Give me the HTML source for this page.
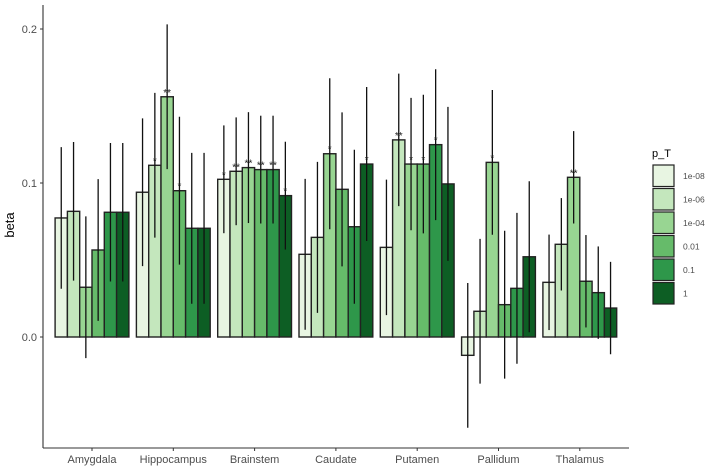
<!DOCTYPE html>
<html><head><meta charset="utf-8"><style>
body{margin:0;background:#fff;}
svg{display:block;font-family:"Liberation Sans",sans-serif;}
</style></head><body>
<svg id="chart" width="708" height="469"></svg>
<script>
const regions = ["Amygdala","Hippocampus","Brainstem","Caudate","Putamen","Pallidum","Thalamus"];
const thresholds = ["1e-08","1e-06","1e-04","0.01","0.1","1"];
const betaAmygdala = [0.0773,0.0816,0.0323,0.0565,0.081,0.081];
const betaHippocampus = [0.094,0.1115,0.156,0.095,0.0706,0.0706];
const betaBrainstem = [0.1024,0.1076,0.110,0.1087,0.1087,0.0918];
const betaCaudate = [0.0537,0.0647,0.119,0.0959,0.0716,0.1123];
const betaPutamen = [0.0582,0.128,0.1123,0.1123,0.1249,0.0994];
const betaPallidum = [-0.0119,0.0167,0.1134,0.021,0.0316,0.0521];
const betaThalamus = [0.0355,0.0602,0.1037,0.0362,0.0288,0.0188];
const errAmygdala = [0.046,0.045,0.046,0.046,0.045,0.045];
const errHippocampus = [0.048,0.047,0.047,0.048,0.049,0.049];
const errBrainstem = [0.035,0.035,0.036,0.035,0.035,0.035];
const errCaudate = [0.049,0.049,0.049,0.050,0.050,0.050];
const errPutamen = [0.044,0.043,0.043,0.045,0.049,0.050];
const errPallidum = [0.047,0.047,0.047,0.048,0.049,0.049];
const errThalamus = [0.031,0.030,0.030,0.030,0.030,0.030];
const starsAmygdala = ["","","","","",""];
const starsHippocampus = ["","*","**","*","",""];
const starsBrainstem = ["*","**","**","**","**","*"];
const starsCaudate = ["","","*","","","*"];
const starsPutamen = ["","**","*","*","*",""];
const starsPallidum = ["","","*","","",""];
const starsThalamus = ["","","**","","",""];
const yTicks = [0.0,0.1,0.2];
const yTickLabels = ["0.0","0.1","0.2"];

const betas=[betaAmygdala,betaHippocampus,betaBrainstem,betaCaudate,betaPutamen,betaPallidum,betaThalamus];
const errs=[errAmygdala,errHippocampus,errBrainstem,errCaudate,errPutamen,errPallidum,errThalamus];
const stars=[starsAmygdala,starsHippocampus,starsBrainstem,starsCaudate,starsPutamen,starsPallidum,starsThalamus];
const colors=["#e8f5e2","#c4e7bd","#98d592","#66bb6a","#2e974a","#0d5e24"];

const svg=document.getElementById('chart');
const NS="http://www.w3.org/2000/svg";
function mk(tag,attrs,parent){const e=document.createElementNS(NS,tag);for(const k in attrs)e.setAttribute(k,attrs[k]);(parent||svg).appendChild(e);return e;}
const y0=337, pxPer=1540;
function yScale(v){return y0-v*pxPer;}
const x0=92, step=81.3, bw=12.3;
function xCenter(i){return x0+i*step;}

// axes
const yAxis=mk('line',{x1:43,y1:5,x2:43,y2:448,stroke:'#333','stroke-width':1.1});


const xAxis=mk('line',{x1:43,y1:448,x2:629,y2:448,stroke:'#333','stroke-width':1.1});


yTicks.forEach((t,i)=>{
  const y=yScale(t);
  mk('line',{x1:40,y1:y,x2:43,y2:y,stroke:'#333'});
  const tx=mk('text',{x:37,y:y+4,'text-anchor':'end','font-size':11,fill:'#4d4d4d'});
  tx.textContent=yTickLabels[i];
  
  
});
const yt=mk('text',{x:0,y:0,transform:'translate(14,225) rotate(-90)','text-anchor':'middle','font-size':13,fill:'#000'});
yt.textContent='beta';



regions.forEach((r,g)=>{
  const cx=xCenter(g);
  mk('line',{x1:cx,y1:448,x2:cx,y2:451,stroke:'#333'});
  const lab=mk('text',{x:cx,y:463,'text-anchor':'middle','font-size':11,fill:'#4d4d4d'});
  lab.textContent=r;
  
  
  const left=cx-3*bw;
  betas[g].forEach((v,k)=>{
    const x=left+k*bw;
    const yv=yScale(v);
    const rect=mk('rect',{x:x,y:Math.min(yv,y0),width:bw,height:Math.abs(y0-yv),fill:colors[k],stroke:'#222','stroke-width':1.4});
    
    
  });
  betas[g].forEach((v,k)=>{
    const x=left+k*bw+bw/2;
    const e=errs[g][k];
    const el=mk('line',{x1:x,y1:yScale(v+e),x2:x,y2:yScale(v-e),stroke:'#111','stroke-width':1.3});
    
    
    if(stars[g][k]){
      const st=mk('text',{x:x,y:yScale(Math.max(v,0))-1,'text-anchor':'middle','font-size':10,fill:'#222'});
      st.textContent=stars[g][k];
      
      
    }
  });
});

// legend
const lt=mk('text',{x:652,y:157,'font-size':11,fill:'#000'});
lt.textContent='p_T';


thresholds.forEach((t,k)=>{
  const y=165+k*23.5;
  const r=mk('rect',{x:653,y:y,width:21,height:21.5,fill:colors[k],stroke:'#222','stroke-width':1.2});
  
  
  const tx=mk('text',{x:683,y:y+14,'font-size':8.5,fill:'#4d4d4d'});
  tx.textContent=t;
  
  
});
</script>
</body></html>
